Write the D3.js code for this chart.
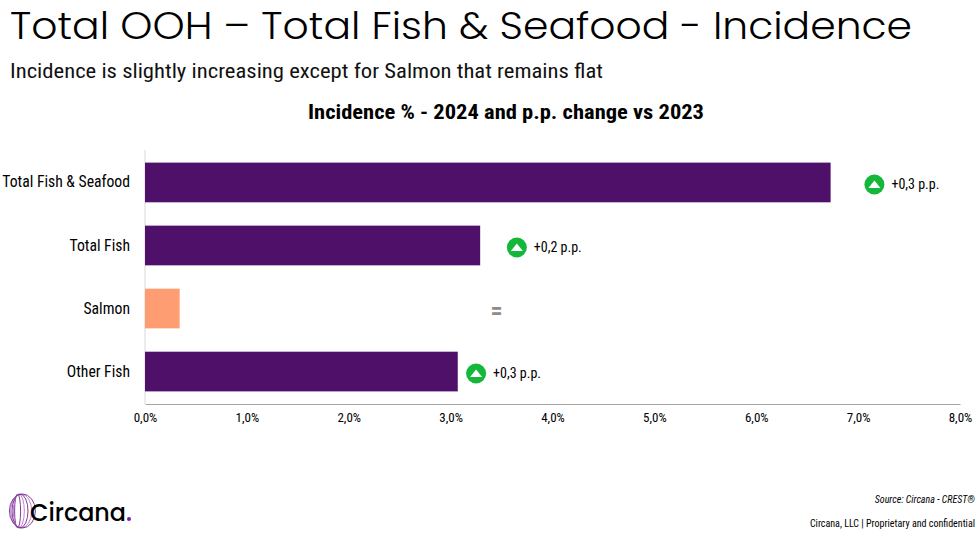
<!DOCTYPE html>
<html lang="en">
  <head>
    <meta charset="utf-8" />
    <title>Total OOH - Total Fish & Seafood - Incidence</title>
    <style>
      body { margin: 0; background: #fff; }
      svg { display: block; }
      .cond { font-family: "Roboto Condensed", "Liberation Sans Narrow", "DejaVu Sans Condensed", "Arial Narrow", Roboto, sans-serif; }
    </style>
  </head>
  <body>
    <div id="chart"></div>
    <script src="https://d3js.org/d3.v7.min.js"></script>
<script>
// data
var categories = ["Total Fish & Seafood", "Total Fish", "Salmon", "Other Fish"];
var incidence = [6.73, 3.29, 0.34, 3.07];          // % 2024
var ppChange = ["+0,3 p.p.", "+0,2 p.p.", "=", "+0,3 p.p."];
var trend = ["up", "up", "flat", "up"];
var labelAt = [7.16, 3.65, 3.45, 3.25];            // where the change marker sits, in %
var ticks = [0, 1, 2, 3, 4, 5, 6, 7, 8];

var width = 980,
  height = 538;

var purple = "#4f106a",
  salmon = "#ff9d72",
  green = "#13b83a";

var svg = d3.select("#chart")
  .append("svg")
  .attr("width", width)
  .attr("height", height);

// titles
svg.append("text")
  .attr("x", 10)
  .attr("y", 39)
  .attr("textLength", 902)
  .attr("lengthAdjust", "spacingAndGlyphs")
  .style("font-family", "Poppins, 'Open Sans', Lato, sans-serif")
  .style("font-weight", 350)
  .style("font-size", "37px")
  .style("fill", "#000")
  .text("Total OOH \u2013 Total Fish & Seafood - Incidence");

svg.append("text")
  .attr("class", "cond")
  .attr("x", 10)
  .attr("y", 78)
  .attr("textLength", 593)
  .attr("lengthAdjust", "spacingAndGlyphs")
  .style("font-size", "20px")
  .style("fill", "#111")
  .text("Incidence is slightly increasing except for Salmon that remains flat");

svg.append("text")
  .attr("class", "cond")
  .attr("x", 308)
  .attr("y", 119)
  .attr("textLength", 396)
  .attr("lengthAdjust", "spacingAndGlyphs")
  .style("font-size", "20px")
  .style("font-weight", "bold")
  .style("fill", "#000")
  .text("Incidence % - 2024 and p.p. change vs 2023");

// scales
var x = d3.scaleLinear()
  .domain([0, 8])
  .range([145, 960]);

var y = d3.scaleBand()
  .domain(categories)
  .range([150, 404])
  .paddingInner(0.37)
  .paddingOuter(0.2);

// left axis line
svg.append("line")
  .attr("x1", x(0)).attr("x2", x(0))
  .attr("y1", 150).attr("y2", 404)
  .style("stroke", "#d9d9d9")
  .style("stroke-width", 1);

// bars
svg.selectAll(".bar")
  .data(categories)
  .enter().append("rect")
  .attr("class", "bar")
  .attr("x", x(0))
  .attr("y", function(d) { return y(d); })
  .attr("width", function(d, i) { return x(incidence[i]) - x(0); })
  .attr("height", y.bandwidth())
  .style("fill", function(d, i) { return trend[i] == "flat" ? salmon : purple; });

// bottom axis
var xAxis = d3.axisBottom(x)
  .tickValues(ticks)
  .tickSize(0)
  .tickPadding(9)
  .tickFormat(function(d) { return d3.format(".1f")(d).replace(".", ",") + "%"; });

var gx = svg.append("g")
  .attr("transform", "translate(0,404)")
  .call(xAxis);
gx.select(".domain").style("stroke", "#a6a6a6");
gx.selectAll("text")
  .attr("class", "cond")
  .style("font-size", "13px")
  .style("fill", "#000");

// category labels
var yAxis = d3.axisLeft(y).tickSize(0).tickPadding(15);
var gy = svg.append("g")
  .attr("transform", "translate(" + x(0) + ",0)")
  .call(yAxis);
gy.select(".domain").remove();
gy.selectAll("text")
  .attr("class", "cond")
  .style("font-size", "15.7px")
  .style("fill", "#000");

// change markers
var marks = svg.selectAll(".mark")
  .data(categories)
  .enter().append("g")
  .attr("class", "mark")
  .attr("transform", function(d, i) {
    return "translate(" + x(labelAt[i]) + "," + (y(d) + y.bandwidth() / 2 + 2) + ")";
  });

marks.filter(function(d, i) { return trend[i] == "up"; })
  .each(function(d) {
    var g = d3.select(this);
    var i = categories.indexOf(d);
    g.append("circle")
      .attr("r", 10)
      .style("fill", green);
    g.append("path")
      .attr("d", "M-6,3.5L0,-4L6,3.5Z")
      .style("fill", "#fff");
    g.append("text")
      .attr("class", "cond")
      .attr("x", 17)
      .attr("dy", "0.35em")
      .style("font-size", "14px")
      .style("fill", "#000")
      .text(ppChange[i]);
  });

marks.filter(function(d, i) { return trend[i] == "flat"; })
  .append("text")
  .attr("class", "cond")
  .attr("text-anchor", "middle")
  .attr("dy", "0.35em")
  .style("font-size", "24px")
  .style("font-weight", "bold")
  .style("fill", "#8c8c8c")
  .text(function(d, i) { return ppChange[categories.indexOf(d)]; });

// footer
svg.append("text")
  .attr("class", "cond")
  .attr("x", 975)
  .attr("y", 503)
  .attr("text-anchor", "end")
  .style("font-size", "10px")
  .style("font-style", "italic")
  .style("fill", "#000")
  .text("Source: Circana  - CREST\u00ae");

svg.append("text")
  .attr("class", "cond")
  .attr("x", 975)
  .attr("y", 527)
  .attr("text-anchor", "end")
  .style("font-size", "10px")
  .style("fill", "#000")
  .text("Circana, LLC  |  Proprietary and confidential");

// logo
var logo = svg.append("g").attr("transform", "translate(20,511)");
[3, 5.5, 8, 10.5, 13].forEach(function(rx, k) {
  logo.append("ellipse")
    .attr("cx", (k - 2) * 1.2)
    .attr("rx", rx)
    .attr("ry", 17)
    .style("fill", "none")
    .style("stroke", k % 2 ? "#c46fc9" : "#6c2a8c")
    .style("stroke-width", 0.9);
});
svg.append("text")
  .attr("x", 30)
  .attr("y", 521)
  .attr("textLength", 96)
  .attr("lengthAdjust", "spacingAndGlyphs")
  .style("font-family", "Poppins, 'Open Sans', sans-serif")
  .style("font-weight", 500)
  .style("font-size", "25px")
  .style("fill", "#000")
  .text("Circana");
svg.append("circle")
  .attr("cx", 129)
  .attr("cy", 519)
  .attr("r", 2)
  .style("fill", "#7b1fa2");
</script>
  </body>
</html>
